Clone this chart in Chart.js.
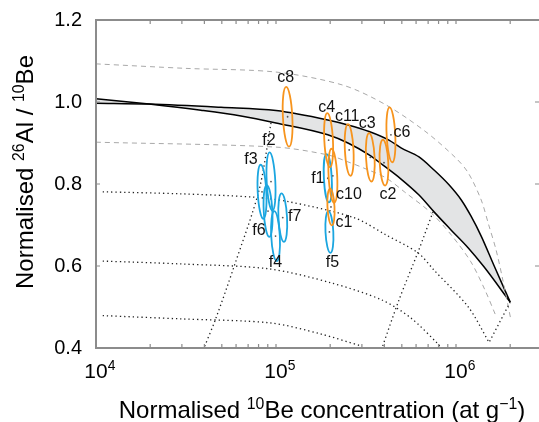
<!DOCTYPE html>
<html lang="en">
<head>
<meta charset="UTF-8" />
<title>Normalised 26Al/10Be vs 10Be</title>
<script src="https://cdn.jsdelivr.net/npm/chart.js@4.4.0/dist/chart.umd.min.js"></script>
<style>
  html, body { margin: 0; padding: 0; background: #fff; }
</style>
</head>
<body>
<canvas id="banana" width="539" height="422"></canvas>
<script>
// ---- values ----
// x: normalised 10Be (at/g), y: normalised 26Al/10Be

// solid curve that starts highest at the left and bends down first
const curveA_N = [1e4, 1.97e4, 3.83e4, 6.39e4, 1e5, 1.94e5, 2.51e5, 3.29e5, 3.93e5, 4.95e5, 6.23e5, 7.55e5, 9.38e5, 1.17e6, 1.43e6, 2.0e6];
const curveA_R = [1.008, 0.995, 0.980, 0.966, 0.949, 0.920, 0.900, 0.871, 0.846, 0.812, 0.773, 0.732, 0.688, 0.644, 0.598, 0.512];
// solid curve on the upper side of the grey band
const curveB_N = [1e4, 1.97e4, 4.95e4, 1e5, 1.94e5, 2.51e5, 3.29e5, 4.24e5, 4.95e5, 6.23e5, 7.55e5, 9.14e5, 1.07e6, 1.21e6, 1.38e6, 1.63e6, 2.0e6];
const curveB_R = [0.997, 0.995, 0.987, 0.979, 0.956, 0.944, 0.928, 0.907, 0.888, 0.866, 0.834, 0.798, 0.761, 0.722, 0.673, 0.600, 0.512];

// grey dashed envelopes
const dashUpN = [1e4, 3.16e4, 1e5, 2.36e5, 4.08e5, 6.81e5, 1e6, 1.17e6, 1.38e6, 1.52e6, 1.67e6, 1.82e6, 2.02e6];
const dashUpR = [1.093, 1.082, 1.073, 1.041, 0.993, 0.927, 0.863, 0.827, 0.761, 0.700, 0.639, 0.566, 0.468];
const dashLoN = [1e4, 1e5, 1.94e5, 2.51e5, 3.07e5, 4.08e5, 5.2e5, 7.3e5, 9.4e5, 1.21e6, 1.45e6, 1.66e6];
const dashLoR = [0.902, 0.890, 0.871, 0.854, 0.839, 0.815, 0.780, 0.729, 0.676, 0.610, 0.541, 0.480];

// dotted burial isochrons
const iso1N = [1.09e4, 2.97e4, 7.45e4, 1.17e5, 2.71e5, 4.08e5, 6.15e5, 7.55e5, 1.17e6, 1.52e6];
const iso1R = [0.781, 0.776, 0.768, 0.757, 0.718, 0.676, 0.632, 0.590, 0.500, 0.415];
const iso2N = [1.09e4, 2.97e4, 9.15e4, 2.02e5, 3.88e5, 5.62e5, 7.94e5, 8.25e5];
const iso2R = [0.612, 0.605, 0.593, 0.559, 0.517, 0.473, 0.410, 0.400];
const iso3N = [1.09e4, 2.97e4, 9.38e4, 1.78e5, 2.97e5];
const iso3R = [0.479, 0.471, 0.461, 0.434, 0.405];

// dotted erosion-rate lines
const ero1N = [9.38e4, 8.05e4, 5.84e4, 4.64e4, 3.98e4];
const ero1R = [0.949, 0.785, 0.598, 0.473, 0.400];
const ero2N = [7.45e5, 6.15e5, 4.82e5, 3.88e5];
const ero2R = [0.732, 0.634, 0.517, 0.400];
const ero3N = [2.0e6, 1.52e6];
const ero3R = [0.512, 0.412];

// samples: name, 10Be, ratio, relative 10Be error, ratio error
const sampleNames = ["f1", "f2", "f3", "f4", "f5", "f6", "f7", "c1", "c2", "c3", "c4", "c6", "c8", "c10", "c11"];
const sampleBe    = [1.94e5, 9.38e4, 8.36e4, 9.94e4, 1.98e5, 9.03e4, 1.09e5, 2.02e5, 3.98e5, 3.34e5, 1.96e5, 4.35e5, 1.16e5, 2.07e5, 2.55e5];
const sampleRatio = [0.814, 0.806, 0.781, 0.673, 0.683, 0.734, 0.718, 0.744, 0.852, 0.865, 0.907, 0.920, 0.964, 0.820, 0.883];
const sampleBeErr = [0.05, 0.055, 0.055, 0.055, 0.05, 0.055, 0.055, 0.045, 0.055, 0.055, 0.055, 0.055, 0.06, 0.055, 0.055];
const sampleRatioErr = [0.059, 0.071, 0.066, 0.061, 0.051, 0.063, 0.059, 0.045, 0.056, 0.059, 0.066, 0.067, 0.073, 0.066, 0.063];

const xTickLabels = [1e4, 1e5, 1e6];
const xMinorTicks = [2e4, 3e4, 4e4, 5e4, 6e4, 7e4, 8e4, 9e4, 2e5, 3e5, 4e5, 5e5, 6e5, 7e5, 8e5, 9e5, 2e6];
const yTickValues = [0.4, 0.6, 0.8, 1.0, 1.2];

// ---- styling ----
const FONT = '"Liberation Sans", Arial, Helvetica, sans-serif';
const ORANGE = "#f7941d";
const BLUE = "#1ba6e0";
const FRAME = "#8c8c8c";
// label position relative to the ellipse centre (px)
const labelOffset = {
  f1: [-10, 0], f2: [-2, -41], f3: [-11, -32], f4: [0, 27], f5: [3, 31], f6: [-9, 20], f7: [12, -1],
  c1: [13, 16], c2: [4, 32], c3: [-3, -34], c4: [-2, -33], c6: [11, -2], c8: [-2, -39], c10: [16, 19], c11: [-2, -33]
};

function pts(N, R) {
  return N.map((n, i) => ({ x: n, y: R[i] }));
}

function lineDs(N, R, opts) {
  return Object.assign({
    data: pts(N, R),
    showLine: true,
    pointRadius: 0,
    borderWidth: 1,
    borderColor: "#000",
    fill: false,
    tension: 0.3
  }, opts);
}

const dotted = { borderDash: [1.3, 3], borderWidth: 1.3, borderColor: "#222" };
const datasets = [
  lineDs(iso1N, iso1R, dotted),
  lineDs(iso2N, iso2R, dotted),
  lineDs(iso3N, iso3R, dotted),
  lineDs(ero1N, ero1R, dotted),
  lineDs(ero2N, ero2R, dotted),
  lineDs(ero3N, ero3R, dotted),
  lineDs(dashUpN, dashUpR, { borderColor: "#a8a8a8", borderDash: [5, 4] }),
  lineDs(dashLoN, dashLoR, { borderColor: "#a8a8a8", borderDash: [5, 4] }),
  lineDs(curveA_N, curveA_R, { borderWidth: 1.5, cubicInterpolationMode: "monotone" }),
  lineDs(curveB_N, curveB_R, { borderWidth: 1.5, cubicInterpolationMode: "monotone", fill: "-1", backgroundColor: "#e3e4e5" })
];

// superscript-aware text drawing
function richWidth(ctx, parts, size) {
  let w = 0;
  parts.forEach(p => {
    ctx.font = (p[1] ? size * 0.66 : size) + "px " + FONT;
    w += ctx.measureText(p[0]).width;
  });
  return w;
}
function drawRich(ctx, parts, x, y, size) {
  let cx = x;
  parts.forEach(p => {
    ctx.font = (p[1] ? size * 0.66 : size) + "px " + FONT;
    ctx.fillText(p[0], cx, p[1] ? y - size * 0.38 : y);
    cx += ctx.measureText(p[0]).width;
  });
}

const decorPlugin = {
  id: "decor",
  afterDatasetsDraw(chart) {
    const ctx = chart.ctx;
    const xs = chart.scales.x, ys = chart.scales.y;
    const a = chart.chartArea;

    // error ellipses
    sampleNames.forEach((name, i) => {
      const cx = xs.getPixelForValue(sampleBe[i]);
      const cy = ys.getPixelForValue(sampleRatio[i]);
      const rx = (xs.getPixelForValue(sampleBe[i] * (1 + sampleBeErr[i])) - xs.getPixelForValue(sampleBe[i] * (1 - sampleBeErr[i]))) / 2;
      const ry = (ys.getPixelForValue(sampleRatio[i] - sampleRatioErr[i]) - ys.getPixelForValue(sampleRatio[i] + sampleRatioErr[i])) / 2;
      ctx.save();
      ctx.strokeStyle = name[0] === "c" ? ORANGE : BLUE;
      ctx.lineWidth = 1.8;
      ctx.beginPath();
      ctx.ellipse(cx, cy, rx, ry, -0.05, 0, Math.PI * 2);
      ctx.stroke();
      ctx.fillStyle = "#555";
      ctx.beginPath();
      ctx.arc(cx, cy, 0.9, 0, Math.PI * 2);
      ctx.fill();
      ctx.restore();
    });
    // sample labels
    ctx.save();
    ctx.fillStyle = "#111";
    ctx.font = "16px " + FONT;
    ctx.textAlign = "center";
    ctx.textBaseline = "middle";
    sampleNames.forEach((name, i) => {
      const off = labelOffset[name];
      ctx.fillText(name, xs.getPixelForValue(sampleBe[i]) + off[0], ys.getPixelForValue(sampleRatio[i]) + off[1]);
    });
    ctx.restore();

    // frame: left, top, bottom
    ctx.save();
    ctx.strokeStyle = FRAME;
    ctx.lineWidth = 2;
    ctx.beginPath();
    ctx.moveTo(a.right, a.top);
    ctx.lineTo(a.left, a.top);
    ctx.lineTo(a.left, a.bottom);
    ctx.lineTo(a.right, a.bottom);
    ctx.stroke();
    ctx.lineWidth = 1.2;
    ctx.beginPath();
    xMinorTicks.concat(xTickLabels).forEach(v => {
      const px = xs.getPixelForValue(v);
      ctx.moveTo(px, a.bottom);
      ctx.lineTo(px, a.bottom - 4);
      ctx.moveTo(px, a.top);
      ctx.lineTo(px, a.top + 4);
    });
    yTickValues.forEach(v => {
      const py = ys.getPixelForValue(v);
      ctx.moveTo(a.left, py);
      ctx.lineTo(a.left + 4, py);
      ctx.moveTo(a.right, py);
      ctx.lineTo(a.right - 4, py);
    });
    ctx.stroke();
    ctx.restore();

    // tick labels
    ctx.save();
    ctx.fillStyle = "#000";
    ctx.textBaseline = "middle";
    ctx.textAlign = "right";
    ctx.font = "20px " + FONT;
    yTickValues.forEach(v => ctx.fillText(v.toFixed(1), 82, ys.getPixelForValue(v)));
    ctx.textAlign = "left";
    ctx.textBaseline = "alphabetic";
    xTickLabels.forEach(v => {
      const px = xs.getPixelForValue(v);
      ctx.font = "21px " + FONT;
      const w10 = ctx.measureText("10").width;
      drawRich(ctx, [["10", false], [String(Math.round(Math.log10(v))), true]], px - w10 / 2, 378, 21);
    });

    // axis titles
    const xt = [["Normalised ", false], ["10", true], ["Be concentration (at g", false], ["\u22121", true], [")", false]];
    const wx = richWidth(ctx, xt, 24);
    drawRich(ctx, xt, 322 - wx / 2, 418, 24);
    const yt = [["Normalised ", false], ["26", true], ["Al / ", false], ["10", true], ["Be", false]];
    const wy = richWidth(ctx, yt, 24);
    ctx.translate(33, 172);
    ctx.rotate(-Math.PI / 2);
    drawRich(ctx, yt, -wy / 2, 0, 24);
    ctx.restore();
  }
};

new Chart(document.getElementById("banana"), {
  type: "scatter",
  data: { datasets: datasets },
  options: {
    responsive: false,
    animation: false,
    layout: { padding: { top: 20, right: 0, left: 0, bottom: 0 } },
    plugins: { legend: { display: false }, tooltip: { enabled: false } },
    scales: {
      x: {
        type: "logarithmic", min: 1e4, max: 2.891e6,
        grid: { display: false }, border: { display: false }, ticks: { display: false },
        afterFit(s) { s.height = 74; }
      },
      y: {
        min: 0.4, max: 1.2,
        grid: { display: false }, border: { display: false }, ticks: { display: false },
        afterFit(s) { s.width = 96; }
      }
    }
  },
  plugins: [decorPlugin]
});
</script>
</body>
</html>
